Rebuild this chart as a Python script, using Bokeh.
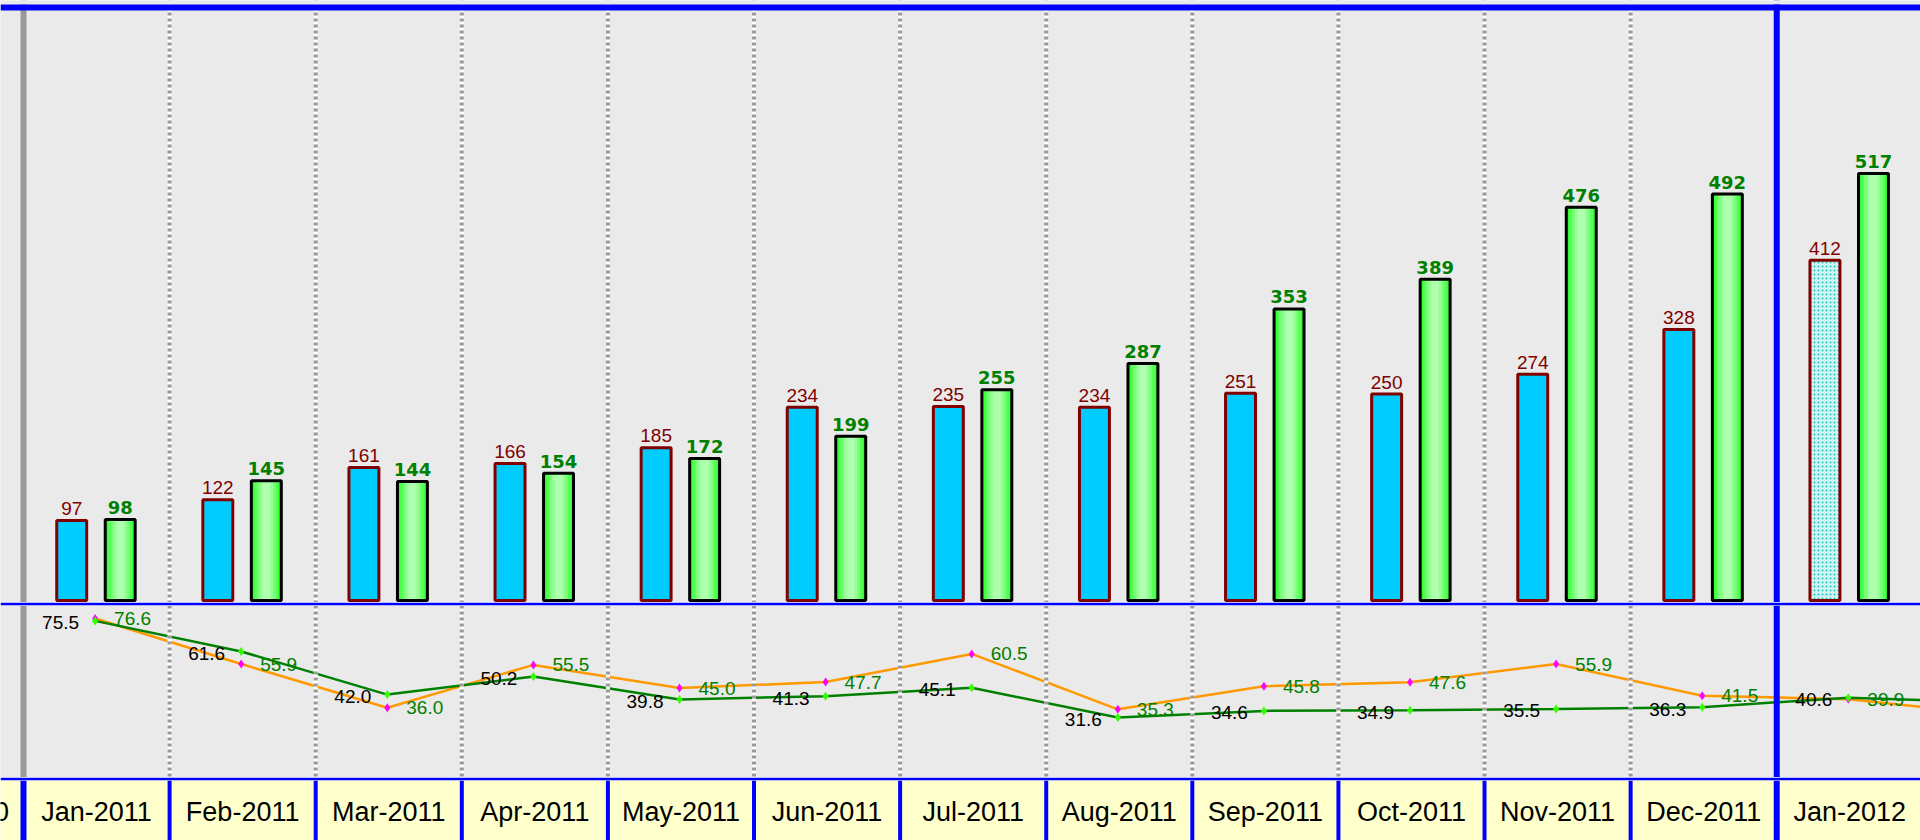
from bokeh.plotting import figure
from bokeh.layouts import column
from bokeh.models import Range1d, Span, ColumnDataSource
from bokeh.core.properties import value
from bokeh.embed import file_html
from bokeh.resources import INLINE

# ---------------- data ----------------
months = ["Jan-2011", "Feb-2011", "Mar-2011", "Apr-2011", "May-2011", "Jun-2011",
          "Jul-2011", "Aug-2011", "Sep-2011", "Oct-2011", "Nov-2011", "Dec-2011", "Jan-2012"]
band_labels = ["Dec-2010"] + months + ["Feb-2012"]
blue_vals = [97, 122, 161, 166, 185, 234, 235, 234, 251, 250, 274, 328, 412]   # last one is a forecast
green_vals = [98, 145, 144, 154, 172, 199, 255, 287, 353, 389, 476, 492, 517]
# ratio lines (last point = Feb-2012, off-screen, estimated from the visible slope)
green_ratio = [75.5, 61.6, 42.0, 50.2, 39.8, 41.3, 45.1, 31.6, 34.6, 34.9, 35.5, 36.3, 40.6, 38.4]
orange_ratio = [76.6, 55.9, 36.0, 55.5, 45.0, 47.7, 60.5, 35.3, 45.8, 47.6, 55.9, 41.5, 39.9, 33.0]

# ---------------- layout constants ----------------
W = 1920
X_LO, X_HI = -0.1574, 12.984
BG = "#EAEAEA"
BLUE = "#0000FF"
GRAY = "#999999"
n = len(months)
n_actual = n - 1

FONT = value("Liberation Sans")

# bar panel scale: frame is 602 px tall, value 0 sits 2 px above the frame bottom
A_H = 602
A_LO, A_HI = -2.42, 726.4
A_PX = A_H / (A_HI - A_LO)


def a_val(px_from_top):
    return A_HI - px_from_top / A_PX


def add_grid_lines(p, band=False):
    for b in range(0, n + 1):
        if band:
            w = 6 if b in (0, n - 1) else 4
            p.add_layout(Span(location=b, dimension="height", line_color=BLUE, line_width=w))
        else:
            if b == 0:
                p.add_layout(Span(location=b, dimension="height", line_color=GRAY, line_width=6))
            elif b == n - 1:
                p.add_layout(Span(location=b, dimension="height", line_color=BLUE, line_width=6))
            else:
                p.add_layout(Span(location=b, dimension="height", line_color="white", line_width=4))
                p.add_layout(Span(location=b, dimension="height", line_color=GRAY, line_width=4,
                                  line_dash="3 3"))


def make_fig(h, yr, top, bg):
    p = figure(width=W, height=h, x_range=Range1d(X_LO, X_HI), y_range=yr,
               output_backend="svg", toolbar_location=None, title=None,
               x_axis_location=None, y_axis_location=None,
               min_border_left=0, min_border_right=0, min_border_top=top, min_border_bottom=0,
               border_fill_color=BLUE, background_fill_color=bg, outline_line_color=None)
    p.grid.grid_line_color = None
    return p


# ---------------- bars panel ----------------
pA = make_fig(A_H, Range1d(A_LO, A_HI), 0, BG)
add_grid_lines(pA)
# top frame line
pA.add_layout(Span(location=a_val(2), dimension="width", line_color=BG, line_width=4))
pA.add_layout(Span(location=a_val(7), dimension="width", line_color=BLUE, line_width=6))

xb = [i + 0.5 - 0.17 for i in range(n)]
xg = [i + 0.5 + 0.162 for i in range(n)]
BW = 0.205

srcA = ColumnDataSource(dict(x=xb[:n_actual], top=blue_vals[:n_actual],
                             lab=[str(v) for v in blue_vals[:n_actual]]))
srcF = ColumnDataSource(dict(x=xb[n_actual:], top=blue_vals[n_actual:],
                             lab=[str(v) for v in blue_vals[n_actual:]]))
srcG = ColumnDataSource(dict(x=xg, top=green_vals, lab=[str(v) for v in green_vals]))

pA.vbar(x="x", top="top", bottom=0, width=BW, source=srcA,
        fill_color="#00CCFF", line_color="#800000", line_width=3)
pA.vbar(x="x", top="top", bottom=0, width=BW, source=srcF,
        fill_color="#D2F3F3", line_color="#800000", line_width=3,
        hatch_pattern="dot", hatch_color="#22C4C4", hatch_scale=4, hatch_weight=2.5)

# green bars with a horizontal light gradient (layered strips)
layers = [(1.0, "#33FF33"), (0.8, "#55FF55"), (0.62, "#77FF77"), (0.44, "#95FF95"), (0.26, "#AEFFAE")]
for frac, col in layers:
    pA.vbar(x="x", top="top", bottom=0, width=BW * frac, source=srcG,
            fill_color=col, line_color=None)
pA.vbar(x="x", top="top", bottom=0, width=BW, source=srcG,
        fill_color=None, line_color="black", line_width=3)

pA.text(x="x", y="top", text="lab", source=srcA, text_font=FONT, text_font_size="19px",
        text_color="#800000", text_align="center", text_baseline="alphabetic", y_offset=-12)
pA.text(x="x", y="top", text="lab", source=srcF, text_font=FONT, text_font_size="19px",
        text_color="#800000", text_align="center", text_baseline="alphabetic", y_offset=-12)
pA.text(x="x", y="top", text="lab", source=srcG, text_font=value("DejaVu Sans"),
        text_font_size="18px", text_font_style="bold",
        text_color="#008000", text_align="center", text_baseline="alphabetic", y_offset=-12)

# ---------------- ratio lines panel ----------------
pB = make_fig(175, Range1d(4.32, 82.5), 3, BG)
add_grid_lines(pB)

xl = [i + 0.49 for i in range(len(green_ratio))]
srcL = ColumnDataSource(dict(x=xl, g=green_ratio, o=orange_ratio))
srcLab = ColumnDataSource(dict(x=xl[:n], g=green_ratio[:n], o=orange_ratio[:n],
                               gl=["%.1f" % v for v in green_ratio[:n]],
                               ol=["%.1f" % v for v in orange_ratio[:n]]))

pB.line(x="x", y="o", source=srcL, line_color="#FF9900", line_width=2.5)
pB.line(x="x", y="g", source=srcL, line_color="#008000", line_width=2.5)
pB.scatter(x="x", y="o", source=srcLab, marker="diamond", size=9,
           fill_color="#FF00FF", line_color=None)
pB.scatter(x="x", y="g", source=srcLab, marker="diamond", size=9,
           fill_color="#33FF00", line_color=None)
pB.text(x="x", y="g", text="gl", source=srcLab, text_font=FONT, text_font_size="19px",
        text_color="#000000", text_align="right", text_baseline="middle",
        x_offset=-16, y_offset=2)
pB.text(x="x", y="o", text="ol", source=srcLab, text_font=FONT, text_font_size="19px",
        text_color="#008000", text_align="left", text_baseline="middle",
        x_offset=19, y_offset=0)

# ---------------- month band ----------------
pC = make_fig(63, Range1d(0, 1), 3, "#FFFFCC")
add_grid_lines(pC, band=True)
srcM = ColumnDataSource(dict(x=[i - 0.5 for i in range(len(band_labels))], lab=band_labels))
pC.text(x="x", y=0.467, text="lab", source=srcM, text_font=FONT, text_font_size="27px",
        text_color="black", text_align="center", text_baseline="middle")

layout = column(pA, pB, pC, spacing=0)
open("out.html", "w").write(file_html(layout, INLINE))
